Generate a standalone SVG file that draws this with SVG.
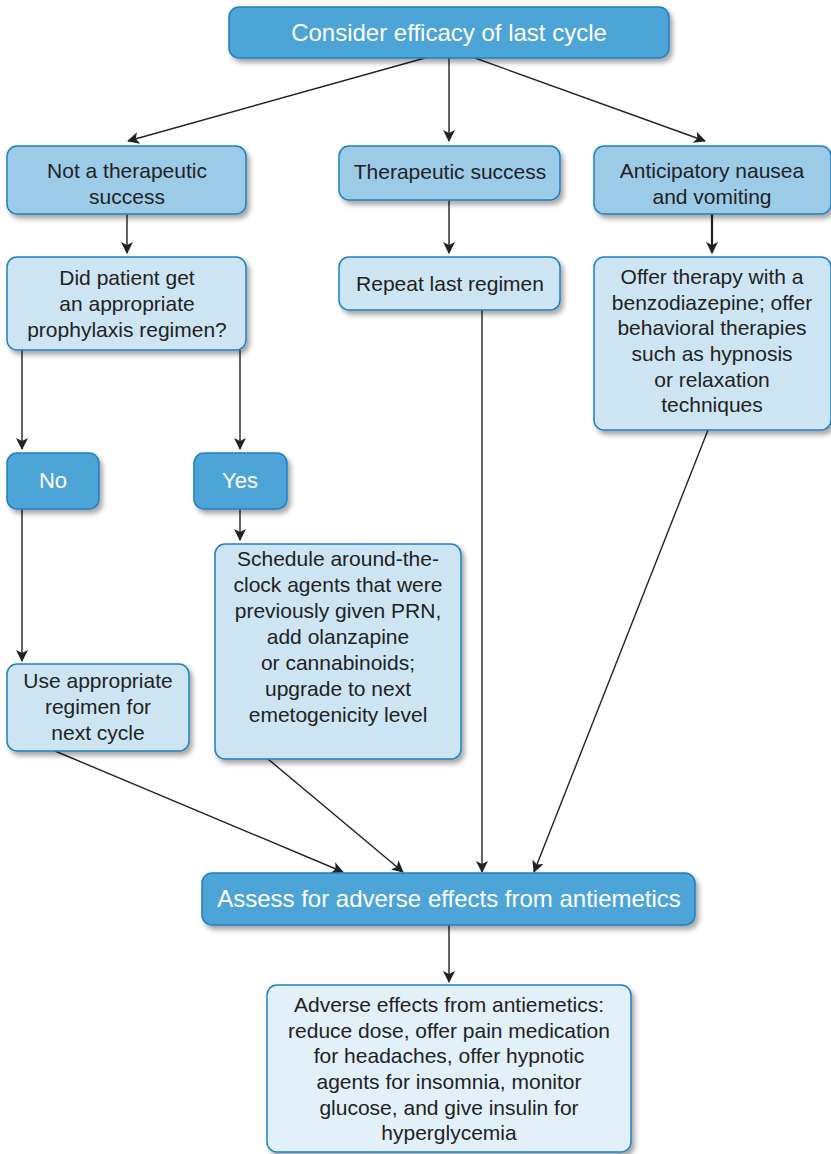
<svg xmlns="http://www.w3.org/2000/svg" width="831" height="1154" viewBox="0 0 831 1154">
<defs>
<filter id="sh" x="-10%" y="-10%" width="130%" height="140%">
<feDropShadow dx="3" dy="4" stdDeviation="2.5" flood-color="#000" flood-opacity="0.35"/>
</filter>
<marker id="ah" viewBox="0 0 12 12" refX="11" refY="6" markerWidth="12" markerHeight="12" markerUnits="userSpaceOnUse" orient="auto">
<path d="M0,0 L12,6 L0,12 L3,6 Z" fill="#222"/>
</marker>
</defs>
<style>
.dk{fill:#4ea4d7;stroke:#1f7fc1;stroke-width:1.5;filter:url(#sh)}
.md{fill:#9ccbe8;stroke:#1f7fc1;stroke-width:1.5;filter:url(#sh)}
.lt{fill:#cde5f3;stroke:#1f7fc1;stroke-width:1.5;filter:url(#sh)}
.vl{fill:#e2f0fa;stroke:#1f7fc1;stroke-width:1.5;filter:url(#sh)}
text{font-family:"Liberation Sans",Arial,sans-serif;text-anchor:middle}
.w{fill:#fff;font-size:24px}
.wn{fill:#fff;font-size:22px}
.b{fill:#222;font-size:21px}
.c line{stroke:#222;stroke-width:1.4;marker-end:url(#ah)}
</style>
<g class="c" id="connectors">
<line x1="425" y1="58" x2="128" y2="141"/>
<line x1="449" y1="58" x2="449" y2="141"/>
<line x1="475" y1="58" x2="705" y2="141"/>
<line x1="127" y1="214" x2="127" y2="253"/>
<line x1="449" y1="200" x2="449" y2="253"/>
<line x1="712" y1="214" x2="712" y2="253" style="stroke-width:2.2"/>
<line x1="22" y1="350" x2="22" y2="449"/>
<line x1="240" y1="350" x2="240" y2="449"/>
<line x1="22" y1="509" x2="22" y2="661"/>
<line x1="240" y1="509" x2="240" y2="540"/>
<line x1="55" y1="751" x2="343" y2="872"/>
<line x1="268" y1="759" x2="403" y2="872"/>
<line x1="482" y1="310" x2="482" y2="872"/>
<line x1="708" y1="430" x2="534" y2="872"/>
<line x1="449" y1="925" x2="449" y2="982"/>
</g>
<g id="n-top"><rect class="dk" x="229" y="7" width="440" height="51" rx="10"/><text class="w" x="449" y="41">Consider efficacy of last cycle</text></g>
<g id="n-not"><rect class="md" x="7" y="146" width="239" height="68" rx="10"/><text class="b" x="127" y="178">Not a therapeutic</text><text class="b" x="127" y="204">success</text></g>
<g id="n-ther"><rect class="md" x="339" y="146" width="221" height="54" rx="10"/><text class="b" x="450" y="179">Therapeutic success</text></g>
<g id="n-antic"><rect class="md" x="594" y="146" width="237" height="68" rx="10"/><text class="b" x="712" y="178">Anticipatory nausea</text><text class="b" x="712" y="204">and vomiting</text></g>
<g id="n-did"><rect class="lt" x="7" y="257" width="239" height="93" rx="10"/><text class="b" x="127" y="285">Did patient get</text><text class="b" x="127" y="311">an appropriate</text><text class="b" x="127" y="337">prophylaxis regimen?</text></g>
<g id="n-repeat"><rect class="lt" x="339" y="257" width="221" height="53" rx="10"/><text class="b" x="450" y="291">Repeat last regimen</text></g>
<g id="n-offer"><rect class="lt" x="594" y="257" width="237" height="173" rx="10"/><text class="b" x="712" y="284">Offer therapy with a</text><text class="b" x="712" y="310">benzodiazepine; offer</text><text class="b" x="712" y="335">behavioral therapies</text><text class="b" x="712" y="361">such as hypnosis</text><text class="b" x="712" y="387">or relaxation</text><text class="b" x="712" y="412">techniques</text></g>
<g id="n-no"><rect class="dk" x="7" y="453" width="92" height="56" rx="10"/><text class="wn" x="53" y="488">No</text></g>
<g id="n-yes"><rect class="dk" x="194" y="453" width="93" height="56" rx="10"/><text class="wn" x="240" y="488">Yes</text></g>
<g id="n-use"><rect class="lt" x="7" y="664" width="182" height="87" rx="10"/><text class="b" x="98" y="688">Use appropriate</text><text class="b" x="98" y="714">regimen for</text><text class="b" x="98" y="740">next cycle</text></g>
<g id="n-sched"><rect class="lt" x="215" y="544" width="246" height="215" rx="10"/><text class="b" x="338" y="566">Schedule around-the-</text><text class="b" x="338" y="592">clock agents that were</text><text class="b" x="338" y="618">previously given PRN,</text><text class="b" x="338" y="644">add olanzapine</text><text class="b" x="338" y="670">or cannabinoids;</text><text class="b" x="338" y="696">upgrade to next</text><text class="b" x="338" y="722">emetogenicity level</text></g>
<g id="n-assess"><rect class="dk" x="202" y="873" width="493" height="52" rx="10"/><text class="w" x="449" y="907">Assess for adverse effects from antiemetics</text></g>
<g id="n-adverse"><rect class="vl" x="267" y="985" width="364" height="167" rx="10"/><text class="b" x="449" y="1012">Adverse effects from antiemetics:</text><text class="b" x="449" y="1038">reduce dose, offer pain medication</text><text class="b" x="449" y="1063">for headaches, offer hypnotic</text><text class="b" x="449" y="1089">agents for insomnia, monitor</text><text class="b" x="449" y="1115">glucose, and give insulin for</text><text class="b" x="449" y="1140">hyperglycemia</text></g>
</svg>
